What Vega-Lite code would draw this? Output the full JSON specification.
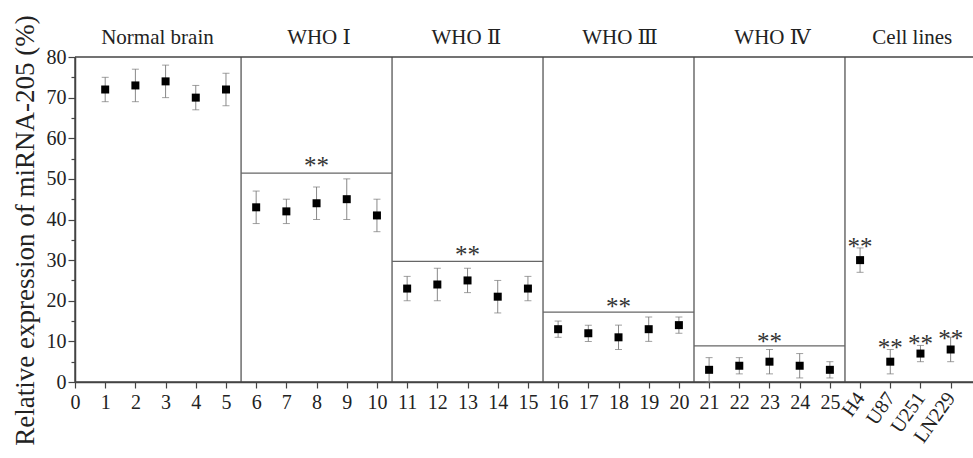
{
  "$schema": "https://vega.github.io/schema/vega-lite/v6.json",
  "autosize": {"type": "none"},
  "padding": {"left": 75, "top": 57, "right": 0, "bottom": 76},
  "width": 898,
  "height": 325,
  "background": "white",
  "config": {
    "view": {"stroke": null},
    "font": "Liberation Serif, Times New Roman, DejaVu Serif, serif",
    "axis": {"domain": true, "domainColor": "#444", "domainWidth": 1.5, "tickColor": "#444", "tickWidth": 1.2, "grid": false, "labelFont": "Liberation Serif, Times New Roman, DejaVu Serif, serif", "labelFontSize": 20, "labelColor": "#222", "titleFont": "Liberation Serif, Times New Roman, DejaVu Serif, serif", "titleColor": "#222", "titleFontWeight": "normal"}
  },
  "datasets": {
    "pts": [
      {"x": 1, "mean": 72, "lo": 69, "hi": 75},
      {"x": 2, "mean": 73, "lo": 69, "hi": 77},
      {"x": 3, "mean": 74, "lo": 70, "hi": 78},
      {"x": 4, "mean": 70, "lo": 67, "hi": 73},
      {"x": 5, "mean": 72, "lo": 68, "hi": 76},
      {"x": 6, "mean": 43, "lo": 39, "hi": 47},
      {"x": 7, "mean": 42, "lo": 39, "hi": 45},
      {"x": 8, "mean": 44, "lo": 40, "hi": 48},
      {"x": 9, "mean": 45, "lo": 40, "hi": 50},
      {"x": 10, "mean": 41, "lo": 37, "hi": 45},
      {"x": 11, "mean": 23, "lo": 20, "hi": 26},
      {"x": 12, "mean": 24, "lo": 20, "hi": 28},
      {"x": 13, "mean": 25, "lo": 22, "hi": 28},
      {"x": 14, "mean": 21, "lo": 17, "hi": 25},
      {"x": 15, "mean": 23, "lo": 20, "hi": 26},
      {"x": 16, "mean": 13, "lo": 11, "hi": 15},
      {"x": 17, "mean": 12, "lo": 10, "hi": 14},
      {"x": 18, "mean": 11, "lo": 8, "hi": 14},
      {"x": 19, "mean": 13, "lo": 10, "hi": 16},
      {"x": 20, "mean": 14, "lo": 12, "hi": 16},
      {"x": 21, "mean": 3, "lo": 0, "hi": 6},
      {"x": 22, "mean": 4, "lo": 2, "hi": 6},
      {"x": 23, "mean": 5, "lo": 2, "hi": 8},
      {"x": 24, "mean": 4, "lo": 1, "hi": 7},
      {"x": 25, "mean": 3, "lo": 1, "hi": 5},
      {"x": 26, "mean": 30, "lo": 27, "hi": 33},
      {"x": 27, "mean": 5, "lo": 2, "hi": 8},
      {"x": 28, "mean": 7, "lo": 5, "hi": 9},
      {"x": 29, "mean": 8, "lo": 5, "hi": 11}
    ],
    "dividers": [{"x": 5.5}, {"x": 10.5}, {"x": 15.5}, {"x": 20.5}, {"x": 25.5}],
    "frameH": [{"y": 80}, {"y": 0}],
    "frameV": [{"x": 0}],
    "sig": [
      {"x1": 5.5, "x2": 10.5, "y": 51.4},
      {"x1": 10.5, "x2": 15.5, "y": 29.7},
      {"x1": 15.5, "x2": 20.5, "y": 17.2},
      {"x1": 20.5, "x2": 25.5, "y": 8.9}
    ],
    "stars": [
      {"x": 8, "y": 54.8},
      {"x": 13, "y": 32.9},
      {"x": 18, "y": 20.1},
      {"x": 23, "y": 11.6},
      {"x": 26, "y": 34.9},
      {"x": 27, "y": 10.0},
      {"x": 28, "y": 11.0},
      {"x": 29, "y": 12.4}
    ],
    "headers": [
      {"x": 2.73, "y": 83.2, "label": "Normal brain"},
      {"x": 8.08, "y": 83.2, "label": "WHO Ⅰ"},
      {"x": 12.96, "y": 83.2, "label": "WHO Ⅱ"},
      {"x": 18.05, "y": 83.2, "label": "WHO Ⅲ"},
      {"x": 23.1, "y": 83.2, "label": "WHO Ⅳ"},
      {"x": 27.73, "y": 83.2, "label": "Cell lines"}
    ]
  },
  "resolve": {"axis": {"x": "independent", "y": "independent"}},
  "layer": [
    {
      "data": {"name": "dividers"},
      "mark": {"type": "rule", "color": "#555", "strokeWidth": 1.3},
      "encoding": {
        "x": {"field": "x", "type": "quantitative", "scale": {"domain": [0, 29.74], "nice": false, "zero": false}, "axis": null}
      }
    },
    {
      "data": {"name": "frameH"},
      "mark": {"type": "rule", "color": "#444", "strokeWidth": 1.4},
      "encoding": {
        "y": {"field": "y", "type": "quantitative", "scale": {"domain": [0, 80], "nice": false}, "axis": null}
      }
    },
    {
      "data": {"name": "frameV"},
      "mark": {"type": "rule", "color": "#444", "strokeWidth": 1.4},
      "encoding": {
        "x": {"field": "x", "type": "quantitative", "scale": {"domain": [0, 29.74], "nice": false, "zero": false}, "axis": null}
      }
    },
    {
      "data": {"name": "sig"},
      "mark": {"type": "rule", "color": "#666", "strokeWidth": 1.2},
      "encoding": {
        "x": {"field": "x1", "type": "quantitative", "scale": {"domain": [0, 29.74], "nice": false, "zero": false}, "axis": null},
        "x2": {"field": "x2"},
        "y": {"field": "y", "type": "quantitative", "scale": {"domain": [0, 80], "nice": false}, "axis": null}
      }
    },
    {
      "data": {"name": "pts"},
      "mark": {"type": "rule", "color": "#888", "strokeWidth": 1},
      "encoding": {
        "x": {"field": "x", "type": "quantitative", "scale": {"domain": [0, 29.74], "nice": false, "zero": false}, "axis": null},
        "y": {"field": "lo", "type": "quantitative", "scale": {"domain": [0, 80], "nice": false}, "axis": null},
        "y2": {"field": "hi"}
      }
    },
    {
      "data": {"name": "pts"},
      "mark": {"type": "tick", "orient": "horizontal", "color": "#777", "size": 7, "thickness": 1},
      "encoding": {
        "x": {"field": "x", "type": "quantitative", "scale": {"domain": [0, 29.74], "nice": false, "zero": false}, "axis": null},
        "y": {"field": "lo", "type": "quantitative", "scale": {"domain": [0, 80], "nice": false}, "axis": null}
      }
    },
    {
      "data": {"name": "pts"},
      "mark": {"type": "tick", "orient": "horizontal", "color": "#777", "size": 7, "thickness": 1},
      "encoding": {
        "x": {"field": "x", "type": "quantitative", "scale": {"domain": [0, 29.74], "nice": false, "zero": false},
          "axis": {"orient": "bottom", "values": [26, 27, 28, 29], "title": null, "domain": false, "ticks": true, "tickColor": "transparent", "tickSize": 6, "labelPadding": 6, "labelAngle": -55, "labelAlign": "right", "labelBaseline": "middle", "labelOverlap": false, "labelBound": false, "labelFlush": false,
            "labelExpr": "['H4','U87','U251','LN229'][datum.value - 26]"}},
        "y": {"field": "hi", "type": "quantitative", "scale": {"domain": [0, 80], "nice": false}, "axis": null}
      }
    },
    {
      "data": {"name": "pts"},
      "mark": {"type": "square", "color": "black", "size": 64, "opacity": 1},
      "encoding": {
        "x": {"field": "x", "type": "quantitative", "scale": {"domain": [0, 29.74], "nice": false, "zero": false},
          "axis": {"orient": "bottom", "domain": true, "values": [0,1,2,3,4,5,6,7,8,9,10,11,12,13,14,15,16,17,18,19,20,21,22,23,24,25,26,27,28,29], "title": null, "tickSize": 6, "labelPadding": 4, "labelOverlap": false, "labelBound": false, "labelFlush": false,
            "labelExpr": "datum.value <= 25 ? datum.label : ''"}},
        "y": {"field": "mean", "type": "quantitative", "scale": {"domain": [0, 80], "nice": false},
          "axis": {"orient": "left", "domain": true, "values": [0,5,10,15,20,25,30,35,40,45,50,55,60,65,70,75,80], "labelExpr": "datum.value % 10 == 0 ? datum.label : ''",
            "tickSize": {"condition": {"test": "datum.value % 10 != 0", "value": 4}, "value": 7},
            "labelPadding": 2, "labelOverlap": false, "labelFlush": false,
            "title": "Relative expression of miRNA-205 (%)", "titleFontSize": 27, "titleAngle": 270, "titleX": -42, "titleY": 173, "titleAlign": "center", "titleBaseline": "alphabetic"}}
      }
    },
    {
      "data": {"name": "stars"},
      "mark": {"type": "text", "text": "**", "font": "Liberation Serif, Times New Roman, DejaVu Serif, serif", "fontSize": 25, "color": "#333", "baseline": "middle", "align": "center", "dy": 7},
      "encoding": {
        "x": {"field": "x", "type": "quantitative", "scale": {"domain": [0, 29.74], "nice": false, "zero": false}, "axis": null},
        "y": {"field": "y", "type": "quantitative", "scale": {"domain": [0, 80], "nice": false}, "axis": null}
      }
    },
    {
      "data": {"name": "headers"},
      "mark": {"type": "text", "font": "Liberation Serif, Times New Roman, DejaVu Serif, serif", "fontSize": 21, "color": "#222", "baseline": "alphabetic", "align": "center"},
      "encoding": {
        "x": {"field": "x", "type": "quantitative", "scale": {"domain": [0, 29.74], "nice": false, "zero": false}, "axis": null},
        "y": {"field": "y", "type": "quantitative", "scale": {"domain": [0, 80], "nice": false}, "axis": null},
        "text": {"field": "label"}
      }
    }
  ]
}
